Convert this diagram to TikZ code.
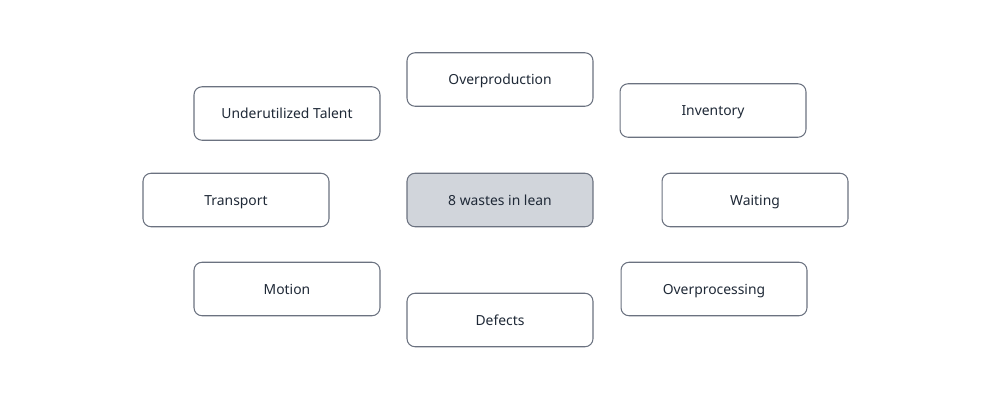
\documentclass[tikz,border=0pt]{standalone}
\usepackage{fontspec}
\setmainfont{Noto Sans}
\usepackage{tikz}
\definecolor{boxline}{HTML}{6B7280}
\definecolor{boxtext}{HTML}{1F2937}
\definecolor{hubfill}{HTML}{D1D5DB}
\begin{document}
\begin{tikzpicture}[x=0.02cm, y=-0.02cm,
  waste/.style={draw=boxline, line width=0.6pt, fill=white, rectangle, rounded corners=0.16cm,
    minimum width=3.72cm, minimum height=1.07cm, inner sep=0pt, text=boxtext,
    text height=1.6ex, text depth=0.45ex,
    font=\fontsize{7.9}{9}\selectfont}]
  \useasboundingbox (0,0) rectangle (1000,400);

  \node [waste,fill=hubfill] (hub) at (500, 200) {8 wastes in lean};

  \node [waste] (overprod)  at (500,  79.5) {Overproduction};
  \node [waste] (talent)    at (287, 113.5) {Underutilized Talent};
  \node [waste] (inventory) at (713, 110.5) {Inventory};
  \node [waste] (transport) at (236, 200)   {Transport};
  \node [waste] (waiting)   at (755, 200)   {Waiting};
  \node [waste] (motion)    at (287, 289)   {Motion};
  \node [waste] (overproc)  at (714, 289)   {Overprocessing};
  \node [waste] (defects)   at (500, 320)   {Defects};

\end{tikzpicture}
\end{document}
